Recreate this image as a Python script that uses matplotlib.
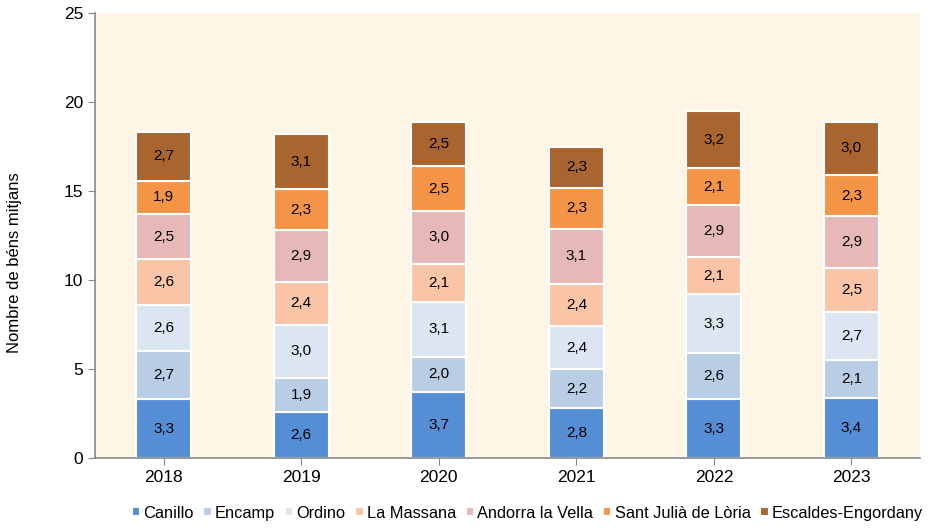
import matplotlib.pyplot as plt
import numpy as np

plt.rcParams['font.family'] = ['Liberation Sans', 'DejaVu Sans']

years = ['2018', '2019', '2020', '2021', '2022', '2023']
parishes = ['Canillo', 'Encamp', 'Ordino', 'La Massana', 'Andorra la Vella',
            'Sant Julià de Lòria', 'Escaldes-Engordany']
canillo = [3.3, 2.6, 3.7, 2.8, 3.3, 3.4]
encamp = [2.7, 1.9, 2.0, 2.2, 2.6, 2.1]
ordino = [2.6, 3.0, 3.1, 2.4, 3.3, 2.7]
massana = [2.6, 2.4, 2.1, 2.4, 2.1, 2.5]
andorra = [2.5, 2.9, 3.0, 3.1, 2.9, 2.9]
santjulia = [1.9, 2.3, 2.5, 2.3, 2.1, 2.3]
escaldes = [2.7, 3.1, 2.5, 2.3, 3.2, 3.0]
series = [canillo, encamp, ordino, massana, andorra, santjulia, escaldes]
colors = ['#558ED5', '#B9CDE5', '#DCE6F2', '#FAC4A6', '#E6B9B8', '#F39446', '#A9652F']

fig = plt.figure(figsize=(9.4, 5.29), dpi=100)
ax = fig.add_axes([0.101, 0.134, 0.878, 0.841])
ax.set_facecolor('#FDF6E7')

x = np.arange(len(years))
bottom = np.zeros(len(years))
handles = []
for name, vals, col in zip(parishes, series, colors):
    vals = np.array(vals)
    bars = ax.bar(x, vals, 0.4, bottom=bottom, color=col, edgecolor='white',
                  linewidth=1.5, label=name)
    handles.append(bars)
    for xi, b, v in zip(x, bottom, vals):
        ax.text(xi, b + v / 2, f'{v:.1f}'.replace('.', ','), ha='center',
                va='center', fontsize=11, color='black')
    bottom += vals

ax.set_xlim(-0.5, len(years) - 0.5)
ax.set_ylim(0, 25)
ax.set_yticks(range(0, 26, 5))
ax.set_xticks(x)
ax.set_xticklabels(years)
ax.tick_params(axis='both', labelsize=12.5, color='#888888', length=5)
for s in ['top', 'right']:
    ax.spines[s].set_visible(False)
for s in ['left', 'bottom']:
    ax.spines[s].set_color('#888888')
    ax.spines[s].set_linewidth(1.2)
ax.set_ylabel('Nombre de béns mitjans', fontsize=12)
ax.yaxis.set_label_coords(-0.088, 0.44)

fig.legend(handles=handles, labels=parishes, loc='lower center', ncol=7,
           bbox_to_anchor=(0.561, -0.012), frameon=False, fontsize=11.8,
           handlelength=0.5, handleheight=0.5, handletextpad=0.2,
           columnspacing=0.6)

fig.savefig('out.png', dpi=100)
